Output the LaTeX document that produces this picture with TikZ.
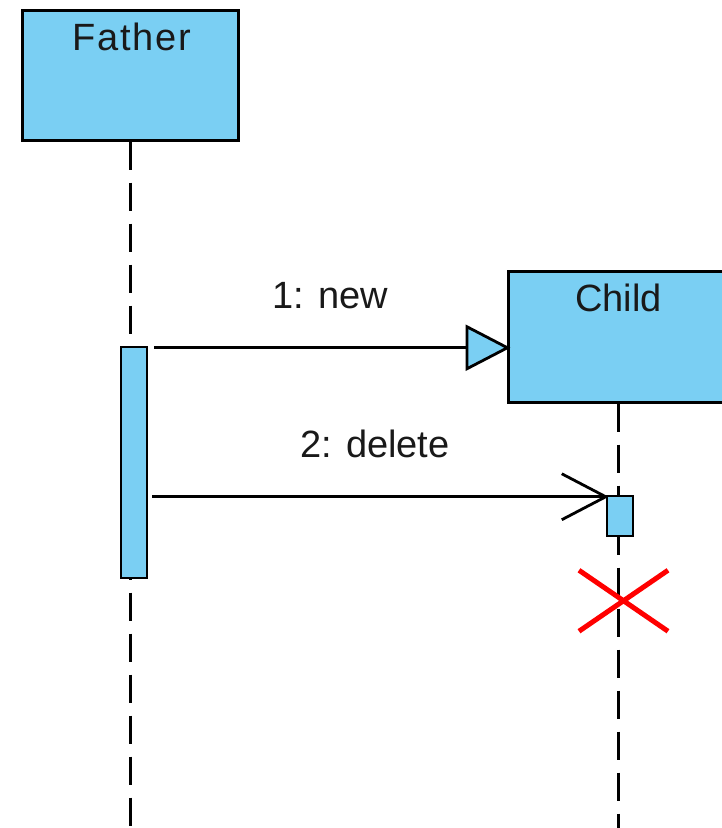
\documentclass[tikz,border=0pt]{standalone}
\usepackage{fontspec}
\setmainfont{Liberation Sans}
\usetikzlibrary{arrows.meta,calc}
\definecolor{umlblue}{RGB}{122,207,243}
\begin{document}
\begin{tikzpicture}[x=1pt,y=-1pt,
  objbox/.style={draw=black, fill=umlblue, line width=3pt, rectangle, inner sep=0pt},
  actbar/.style={draw=black, fill=umlblue, line width=2.5pt, rectangle, inner sep=0pt, minimum width=26pt},
  lifeline/.style={line width=3pt, dash pattern=on 28pt off 13pt},
  msg/.style={line width=2.8pt},
  lbl/.style={font=\fontsize{38}{46}\selectfont, text=black!90, inner sep=0pt, anchor=base}]
\useasboundingbox (0,0) rectangle (721,828);

% object heads
\node[objbox, minimum width=216pt, minimum height=130pt] (father) at (130.5,75) {};
\node[objbox, minimum width=220pt, minimum height=131pt] (child) at (618,336.5) {};
\node[lbl] (fathername) at ($(father.north)+(1.5,42)$) {\addfontfeature{LetterSpace=5}Father};
\node[lbl] (childname) at ($(child.north)+(0.5,42)$) {Child};

% lifelines
\coordinate (fbottom) at (130.5,830);
\draw[lifeline] (father.south) -- (fbottom);
\draw[lifeline] (child.south) -- (child.south |- fbottom);

% activation bars
\node[actbar, minimum height=231pt] (fa) at (134,462.5) {};
\node[actbar, minimum height=40pt] (ca) at (620,516) {};

% message 1: create
\coordinate (m1s) at ($(fa.north east)+(6,2)$);
\draw[msg, shorten >=-4pt, -{Triangle[length=45pt, width=46pt, fill=umlblue, line width=2.8pt]}]
  (m1s) -- (m1s -| child.west);
\node[lbl] (m1label) at (330,308) {1: new};

% message 2: delete
\coordinate (m2e) at ($(ca.north west)+(0,2)$);
\coordinate (m2s) at ($(m2e -| fa.east)+(4,0)$);
\draw[msg] (m2s) -- (m2e);
\draw[msg] (m2e) -- ++(-44,-23) (m2e) -- ++(-44,23);
\node[lbl] (m2label) at (375,457) {2: delete};

% destruction mark
\coordinate (kill) at ($(ca.south)+(3,63)$);
\draw[red, line width=5pt] ($(kill)+(-44,-30)$) -- ($(kill)+(45,31)$)
  ($(kill)+(-44,31)$) -- ($(kill)+(45,-30)$);
\end{tikzpicture}
\end{document}
